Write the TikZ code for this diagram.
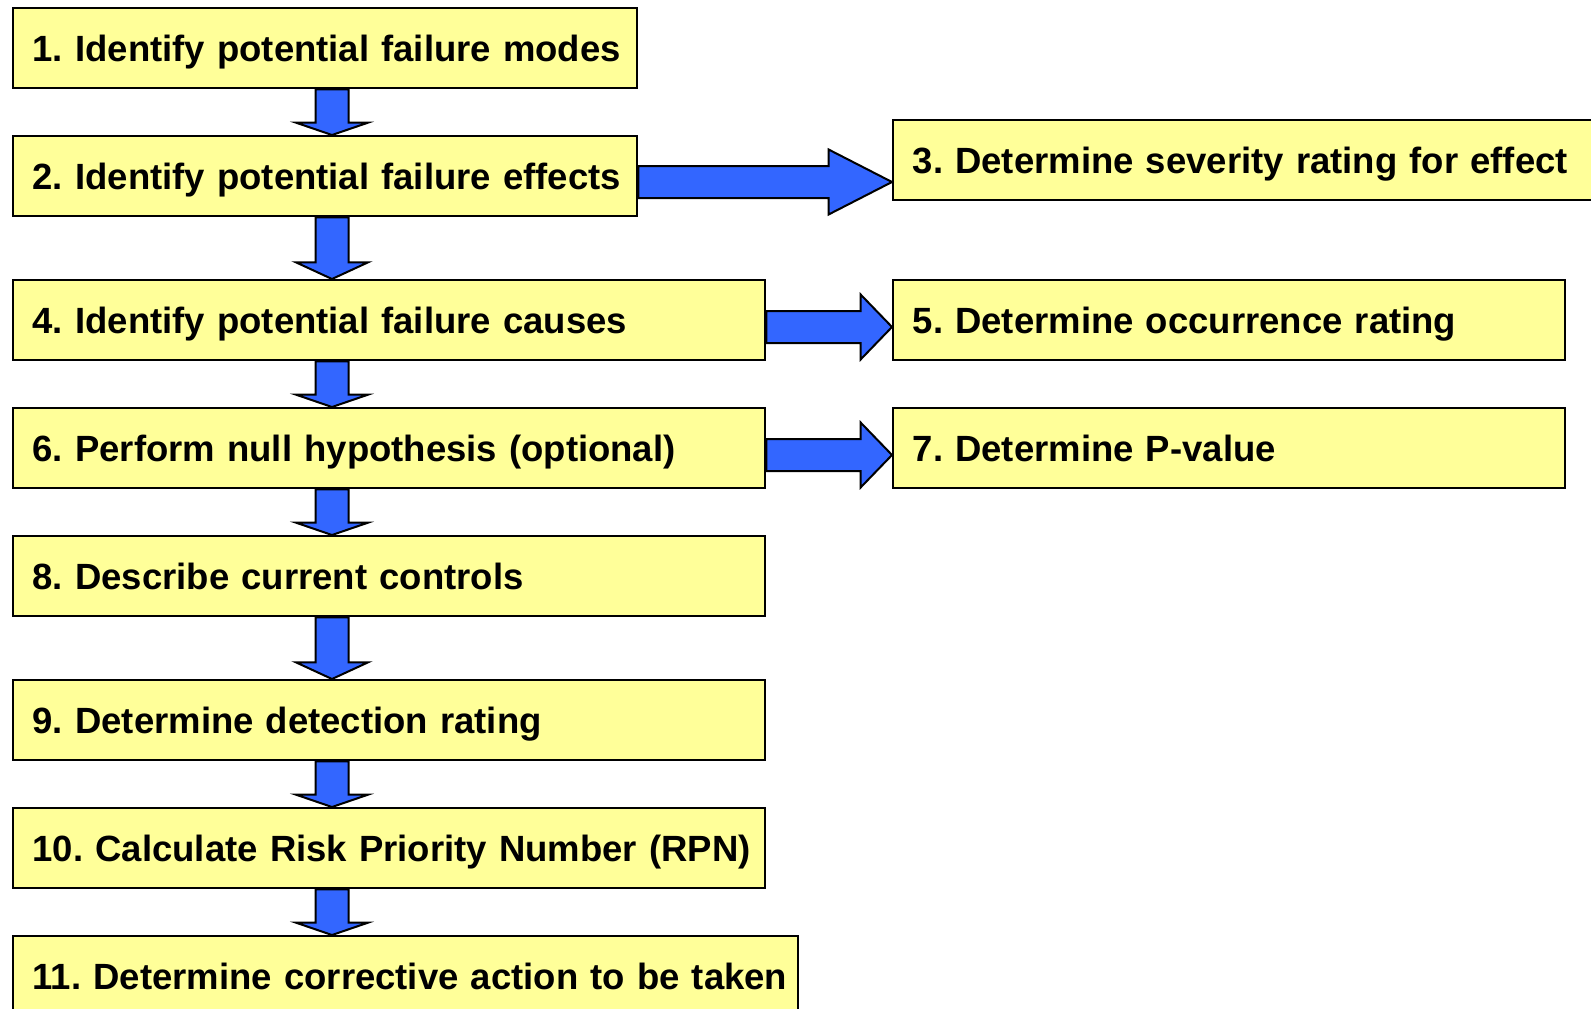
\documentclass[tikz,border=0pt]{standalone}
\usepackage{fontspec}
\setmainfont{Liberation Sans}
\usetikzlibrary{calc}

\definecolor{boxfill}{HTML}{FFFF99}
\definecolor{arrowblue}{HTML}{3366FF}

\tikzset{
  stepbox/.style={draw=black, line width=2.4pt, fill=boxfill, anchor=north west,
    minimum height=80pt, inner xsep=19.5pt, inner ysep=0pt, align=left,
    text height=26.2pt, text depth=0pt,
    font=\fontsize{36.5pt}{40pt}\selectfont\bfseries\frenchspacing},
  blockarrow/.style={draw=black, line width=2pt, fill=arrowblue, line join=miter}
}

% Downward block arrow between two boxes, centred at x = #3 (pt)
\newcommand\flowdown[3]{%
  \draw[blockarrow] let \p1=(#1.south), \p2=(#2.north), \n1={0.27*(\y1-\y2)} in
    ({#3pt-16.5pt},{\y1}) -- ({#3pt+16.5pt},{\y1}) -- ({#3pt+16.5pt},{\y2+\n1*1pt})
    -- ({#3pt+36pt},{\y2+\n1*1pt}) -- ({#3pt},{\y2}) -- ({#3pt-36pt},{\y2+\n1*1pt})
    -- ({#3pt-16.5pt},{\y2+\n1*1pt}) -- cycle;}

% Rightward block arrow between two boxes, centred at y = #3 (pt, downwards)
\newcommand\flowright[3]{%
  \draw[blockarrow] let \p1=(#1.east), \p2=(#2.west), \n1={0.25*(\x2-\x1)} in
    ({\x1},{-#3pt+16pt}) -- ({\x2-\n1*1pt},{-#3pt+16pt}) -- ({\x2-\n1*1pt},{-#3pt+32.5pt})
    -- ({\x2},{-#3pt}) -- ({\x2-\n1*1pt},{-#3pt-32.5pt}) -- ({\x2-\n1*1pt},{-#3pt-16pt})
    -- ({\x1},{-#3pt-16pt}) -- cycle;}

\begin{document}
\begin{tikzpicture}[x=1pt,y=-1pt]
  \useasboundingbox (0,0) rectangle (1591,1009);

  % left column
  \node[stepbox, text width=585pt] (s1) at (12,7) {\mbox{1. Identify potential failure modes}};
  \node[stepbox, text width=585pt] (s2) at (12,135) {\mbox{2. Identify potential failure effects}};
  \node[stepbox, text width=713pt] (s4) at (12,279) {\mbox{4. Identify potential failure causes}};
  \node[stepbox, text width=713pt] (s6) at (12,407) {\mbox{6. Perform null hypothesis (optional)}};
  \node[stepbox, text width=713pt] (s8) at (12,535) {\mbox{8. Describe current controls}};
  \node[stepbox, text width=713pt] (s9) at (12,679) {\mbox{9. Determine detection rating}};
  \node[stepbox, text width=713pt] (s10) at (12,807) {\mbox{10. Calculate Risk Priority Number (RPN)}};
  \node[stepbox, text width=746pt] (s11) at (12,935) {\mbox{11. Determine corrective action to be taken}};

  % right column
  \node[stepbox, text width=681pt] (s3) at (892,119) {\mbox{3. Determine severity rating for effect}};
  \node[stepbox, text width=633pt] (s5) at (892,279) {\mbox{5. Determine occurrence rating}};
  \node[stepbox, text width=633pt] (s7) at (892,407) {\mbox{7. Determine P-value}};

  % connectors
  \flowdown{s1}{s2}{332}
  \flowdown{s2}{s4}{332}
  \flowdown{s4}{s6}{332}
  \flowdown{s6}{s8}{332}
  \flowdown{s8}{s9}{332}
  \flowdown{s9}{s10}{332}
  \flowdown{s10}{s11}{332}

  \flowright{s2}{s3}{182}
  \flowright{s4}{s5}{327}
  \flowright{s6}{s7}{455}
\end{tikzpicture}
\end{document}
